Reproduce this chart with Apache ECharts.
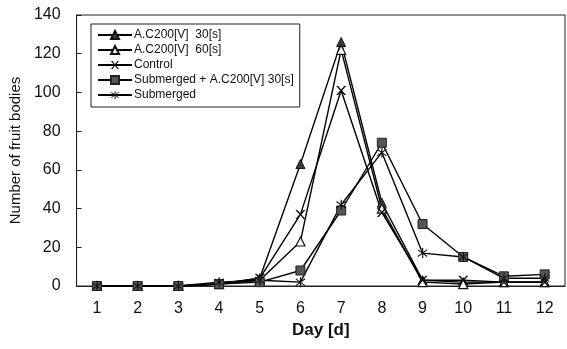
<!DOCTYPE html>
<html>
<head>
<meta charset="utf-8">
<script src="https://cdn.jsdelivr.net/npm/echarts@6/dist/echarts.min.js"></script>
<style>
  html, body { margin: 0; padding: 0; background: #fff; }
  #chart { width: 567px; height: 349px; }
</style>
</head>
<body>
<div id="chart"></div>
<script>
// values
const days = ['1', '2', '3', '4', '5', '6', '7', '8', '9', '10', '11', '12']
const ac30 = [0, 0, 0, 1, 4, 63, 126, 43, 3, 2, 2, 2]
const ac60 = [0, 0, 0, 1, 3, 23, 122, 40, 2, 1, 2, 2]
const control = [0, 0, 0, 1, 4, 37, 101, 38, 3, 3, 2, 2]
const subAc = [0, 0, 0, 1, 2, 8, 39, 74, 32, 15, 5, 6]
const submerged = [0, 0, 0, 2, 3, 2, 42, 69, 17, 15, 4, 4]

const font = 'Liberation Sans, Arial, sans-serif'
const crossPath = 'path://M0,0 L2,0 L5,3.2 L8,0 L10,0 L6,4 L10,8 L8,8 L5,4.8 L2,8 L0,8 L4,4 Z'
const starPath = 'path://M4.4,0 L5.6,0 L5.6,10 L4.4,10 Z M0.6,1.4 L9.8,8 L9.2,8.8 L0,2.2 Z M9.2,1.2 L9.8,2 L0.6,8.8 L0,8 Z'

const chart = echarts.init(document.getElementById('chart'))

function line (name, data, symbol, size, itemStyle) {
  return {
    name: name,
    type: 'line',
    data: data,
    symbol: symbol,
    symbolSize: size,
    showAllSymbol: true,
    itemStyle: itemStyle,
    lineStyle: { color: '#000', width: 1.4 },
    emphasis: { disabled: true },
    z: 3
  }
}

chart.setOption({
  animation: false,
  grid: {
    left: 76,
    right: 2,
    top: 15,
    bottom: 63,
    show: true,
    borderColor: '#222',
    borderWidth: 1
  },
  legend: {
    orient: 'vertical',
    left: 91,
    top: 24,
    padding: [5, 6, 6, 6],
    itemGap: 3,
    itemWidth: 34,
    itemHeight: 10,
    borderColor: '#222',
    borderWidth: 1,
    textStyle: { fontFamily: font, fontSize: 12, color: '#111', padding: [0, 0, 0, -3] },
    data: ['A.C200[V]  30[s]', 'A.C200[V]  60[s]', 'Control', 'Submerged + A.C200[V] 30[s]', 'Submerged']
  },
  xAxis: {
    type: 'category',
    data: days,
    boundaryGap: true,
    name: 'Day [d]',
    nameLocation: 'middle',
    nameGap: 36,
    nameTextStyle: { fontFamily: font, fontSize: 17, fontWeight: 'bold', color: '#111' },
    axisLine: { lineStyle: { color: '#222', width: 1 } },
    axisTick: { inside: true, length: 5, lineStyle: { color: '#222' } },
    axisLabel: { fontFamily: font, fontSize: 16, color: '#111', margin: 15 },
    splitLine: { show: false }
  },
  yAxis: {
    type: 'value',
    min: 0,
    max: 140,
    interval: 20,
    name: 'Number of fruit bodies',
    nameLocation: 'middle',
    nameGap: 47,
    nameTextStyle: { fontFamily: font, fontSize: 15, color: '#111' },
    axisLine: { show: true, lineStyle: { color: '#222', width: 1 } },
    axisTick: { show: true, inside: true, length: 5, lineStyle: { color: '#222' } },
    axisLabel: { fontFamily: font, fontSize: 16, color: '#111', margin: 16 },
    splitLine: { show: false }
  },
  series: [
    line('A.C200[V]  30[s]', ac30, 'triangle', 9, { color: '#3a3a3a', borderColor: '#111', borderWidth: 1 }),
    line('A.C200[V]  60[s]', ac60, 'triangle', 9, { color: '#fff', borderColor: '#111', borderWidth: 1.2 }),
    line('Control', control, crossPath, [10, 9], { color: '#111' }),
    line('Submerged + A.C200[V] 30[s]', subAc, 'rect', 9, { color: '#555', borderColor: '#222', borderWidth: 1 }),
    line('Submerged', submerged, starPath, 10, { color: '#111' })
  ]
})
</script>
</body>
</html>
